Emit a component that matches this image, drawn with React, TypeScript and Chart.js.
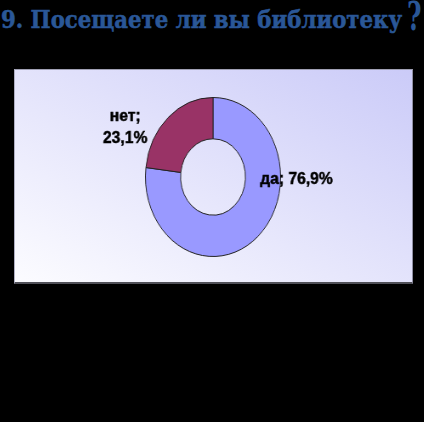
import { useEffect, useLayoutEffect, useRef } from "react";
import { Chart, registerables } from "chart.js";

Chart.register(...registerables);

const TITLE = "9. Посещаете ли вы библиотеку";
const answers = ["да", "нет"];
const shares = [76.9, 23.1];
const sliceColors = ["#9999FF", "#993366"];

// where each label sits, in outer-radius units from the pie centre
const labelSpots = [
  { dx: 1.235, dy: 0.094, split: false },
  { dx: -1.3, dy: -0.7, split: true },
];

const SQUASH = 0.85; // the pie in the picture is narrower than tall
const TEXT_SX = 0.92 / SQUASH;

const fmt = (v: number) => v.toFixed(1).replace(".", ",") + "%";

const sliceLabels = {
  id: "sliceLabels",
  afterDatasetsDraw(chart: Chart) {
    const ctx = chart.ctx;
    const meta = chart.getDatasetMeta(0);
    const labels = chart.data.labels as string[];
    const values = chart.data.datasets[0].data as number[];
    ctx.save();
    ctx.fillStyle = "#000";
    ctx.strokeStyle = "#000";
    ctx.lineWidth = 0.5;
    ctx.font = "bold 17px 'Liberation Sans', Arial, sans-serif";
    ctx.textAlign = "center";
    ctx.textBaseline = "alphabetic";
    meta.data.forEach((el: any, i: number) => {
      const { x, y, outerRadius } = el.getProps(["x", "y", "outerRadius"], true);
      const spot = labelSpots[i];
      const lines = spot.split
        ? [labels[i] + ";", fmt(values[i])]
        : [labels[i] + "; " + fmt(values[i])];
      lines.forEach((line, j) => {
        ctx.save();
        ctx.translate(x + spot.dx * outerRadius, y + spot.dy * outerRadius + j * 22);
        ctx.scale(TEXT_SX, 1);
        ctx.fillText(line, 0, 0);
        ctx.strokeText(line, 0, 0);
        ctx.restore();
      });
    });
    ctx.restore();
  },
};

export default function App() {
  const canvasRef = useRef<HTMLCanvasElement>(null);
  const titleRef = useRef<HTMLDivElement>(null);

  useLayoutEffect(() => {
    const t = titleRef.current;
    if (t) {
      const w = t.getBoundingClientRect().width;
      t.style.transform = `scaleX(${401 / w})`;
    }
  }, []);

  useEffect(() => {
    if (!canvasRef.current) return;
    const chart = new Chart(canvasRef.current, {
      type: "doughnut",
      data: {
        labels: answers,
        datasets: [
          {
            data: shares,
            backgroundColor: sliceColors,
            borderColor: "#222",
            borderWidth: 1,
            hoverOffset: 0,
          },
        ],
      },
      options: {
        responsive: false,
        animation: false,
        cutout: "48%",
        layout: { padding: 0 },
        plugins: {
          legend: { display: false },
          tooltip: { enabled: false },
        },
      },
      plugins: [sliceLabels],
    });
    return () => chart.destroy();
  }, []);

  return (
    <div
      style={{
        position: "fixed",
        left: 0,
        top: 0,
        width: 424,
        height: 422,
        background: "#000",
        overflow: "hidden",
      }}
    >
      <div
        ref={titleRef}
        style={{
          position: "absolute",
          left: 1,
          top: 7,
          whiteSpace: "nowrap",
          fontFamily: "'DejaVu Serif', serif",
          fontWeight: "bold",
          fontSize: 25,
          lineHeight: "25px",
          color: "#2a5797",
          WebkitTextStroke: "0.6px #2a5797",
          transformOrigin: "0 0",
        }}
      >
        {TITLE}
      </div>
      <div
        style={{
          position: "absolute",
          left: 407,
          top: -4,
          fontFamily: "'DejaVu Serif', serif",
          fontWeight: "bold",
          fontSize: 40,
          lineHeight: "40px",
          color: "#2a5797",
          transform: "scaleX(0.62)",
          transformOrigin: "0 0",
        }}
      >
        ?
      </div>
      <div
        style={{
          position: "absolute",
          left: 14,
          top: 69,
          width: 397,
          height: 212,
          borderTop: "1px solid #a0a0b4",
          borderLeft: "1px solid #b0b0c4",
          borderRight: "1px solid #9090a4",
          borderBottom: "2px solid #505058",
          background: "linear-gradient(to top right, #fcfcff, #cbcbf8)",
        }}
      />
      <div
        style={{
          position: "absolute",
          left: 62.5,
          top: 96.5,
          width: 300,
          height: 160,
          transform: `scaleX(${SQUASH})`,
          transformOrigin: "50% 50%",
        }}
      >
        <canvas ref={canvasRef} width={300} height={160} />
      </div>
    </div>
  );
}
